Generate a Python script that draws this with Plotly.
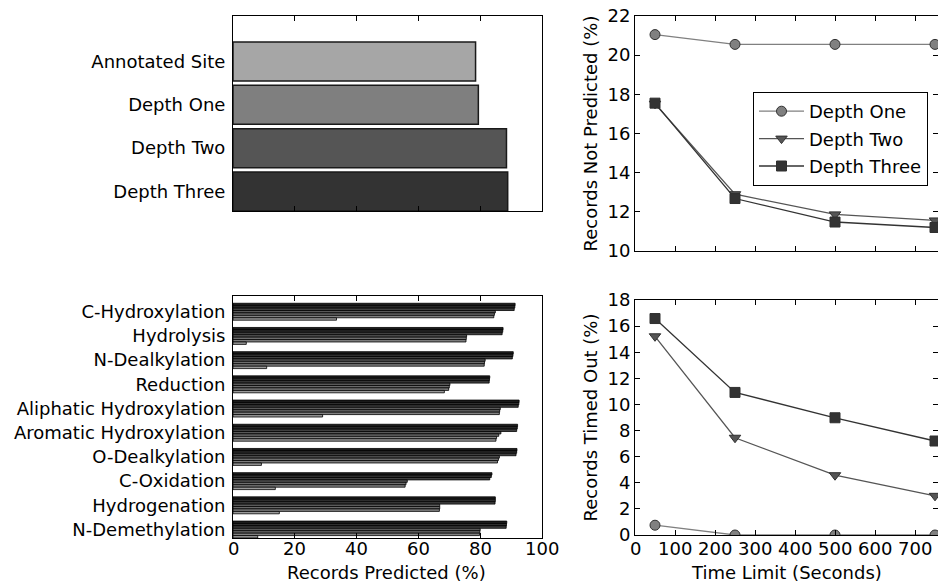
import plotly.graph_objects as go

# ---------------- data ----------------
overall_labels = ["Annotated Site", "Depth One", "Depth Two", "Depth Three"]
overall_predicted = [78.5, 79.4, 88.5, 88.9]
overall_colors = ["#a6a6a6", "#7f7f7f", "#555555", "#333333"]

reaction_types = ["C-Hydroxylation", "Hydrolysis", "N-Dealkylation", "Reduction",
                  "Aliphatic Hydroxylation", "Aromatic Hydroxylation", "O-Dealkylation",
                  "C-Oxidation", "Hydrogenation", "N-Demethylation"]
bar1 = [91.3, 87.4, 90.7, 83.1, 92.6, 92.1, 91.9, 83.8, 84.9, 88.6]
bar2 = [91.2, 87.3, 90.6, 83.0, 92.5, 92.0, 91.8, 83.6, 84.9, 88.5]
bar3 = [91.0, 87.1, 90.4, 82.9, 92.3, 91.8, 91.6, 83.1, 84.8, 88.4]
bar4 = [84.9, 75.6, 81.6, 70.2, 86.5, 86.7, 86.2, 56.4, 66.9, 80.0]
bar5 = [84.6, 75.5, 81.4, 70.0, 86.3, 86.0, 85.9, 56.0, 66.9, 79.9]
bar6 = [84.4, 75.4, 81.3, 69.8, 86.2, 85.3, 85.6, 55.7, 66.8, 79.8]
bar7 = [33.5, 4.3, 10.9, 68.4, 29.0, 85.1, 9.2, 13.7, 15.0, 8.0]
type_series = [bar1, bar2, bar3, bar4, bar5, bar6, bar7]
type_colors = ["#1c1c1c", "#2e2e2e", "#404040", "#5a5a5a", "#6e6e6e", "#828282", "#9a9a9a"]

time_limits = [50, 250, 500, 750]
depth_names = ["Depth One", "Depth Two", "Depth Three"]
not_predicted = [
    [21.05, 20.55, 20.55, 20.55],
    [17.52, 12.9, 11.87, 11.56],
    [17.55, 12.68, 11.48, 11.2],
]
timed_out = [
    [0.75, 0.0, 0.0, 0.0],
    [15.22, 7.45, 4.58, 3.0],
    [16.58, 10.92, 8.98, 7.2],
]
depth_symbols = ["circle", "triangle-down", "square"]
depth_colors = ["#808080", "#555555", "#333333"]

pct_ticks = [0, 20, 40, 60, 80, 100]
time_ticks = [0, 100, 200, 300, 400, 500, 600, 700]

# ---------------- layout helpers ----------------
W, H = 938, 582
def dx(a, b):
    return [a / W, b / W]
def dy(top, bottom):
    return [1 - bottom / H, 1 - top / H]

FONT = "DejaVu Sans"
FS = 18

fig = go.Figure()

# top-left: overall records predicted
n = len(overall_labels)
pos_overall = [(n - 1 - i) + 0.45 for i in range(n)]
fig.add_trace(go.Bar(
    orientation="h", x=overall_predicted, y=pos_overall, width=0.9,
    marker=dict(color=overall_colors, line=dict(color="#1a1a1a", width=1.5)),
    xaxis="x", yaxis="y", showlegend=False, hoverinfo="x+y"))

# bottom-left: per reaction type
m = len(reaction_types)
for k, (vals, col) in enumerate(zip(type_series, type_colors)):
    ypos = [(m - 1 - i) + 0.7 - 0.05 - 0.1 * k for i in range(m)]
    fig.add_trace(go.Bar(
        orientation="h", x=vals, y=ypos, width=0.1,
        marker=dict(color=col, line=dict(color="#000000", width=0.8)),
        xaxis="x2", yaxis="y2", showlegend=False))

# right: lines
for j in range(3):
    fig.add_trace(go.Scatter(
        x=time_limits, y=not_predicted[j], mode="lines+markers", name=depth_names[j],
        legendgroup=depth_names[j],
        line=dict(color=depth_colors[j], width=1.3),
        marker=dict(symbol=depth_symbols[j], size=10, color=depth_colors[j],
                    line=dict(color="#303030", width=1)),
        xaxis="x3", yaxis="y3", showlegend=True, cliponaxis=True))
for j in range(3):
    fig.add_trace(go.Scatter(
        x=time_limits, y=timed_out[j], mode="lines+markers", name=depth_names[j],
        legendgroup=depth_names[j],
        line=dict(color=depth_colors[j], width=1.3),
        marker=dict(symbol=depth_symbols[j], size=10, color=depth_colors[j],
                    line=dict(color="#303030", width=1)),
        xaxis="x4", yaxis="y4", showlegend=False, cliponaxis=True))

ax_common = dict(showline=True, linecolor="black", linewidth=1, showgrid=False,
                 zeroline=False, ticks="inside", ticklen=5, tickcolor="black",
                 automargin=False,
                 tickfont=dict(family=FONT, size=FS, color="black"))
cat_axis = {**ax_common, "ticks": "", "ticklabelstandoff": 3}

# bottom x tick labels placed as text on the axes' own data scale
tick_y = 1 - 548.5 / H
annotations = []
for v in pct_ticks:
    annotations.append(dict(text=str(v), x=v, y=tick_y, xref="x2", yref="paper",
                            showarrow=False, xanchor="center", yanchor="middle",
                            borderpad=0))
for v in time_ticks:
    annotations.append(dict(text=str(v), x=v, y=tick_y, xref="x4", yref="paper",
                            showarrow=False, xanchor="center", yanchor="middle",
                            borderpad=0))
annotations += [
    dict(text="Records Predicted (%)", x=386 / W, y=1 - 572 / H, xref="paper",
         yref="paper", showarrow=False, xanchor="center", yanchor="middle",
         borderpad=0),
    dict(text="Time Limit (Seconds)", x=786 / W, y=1 - 572 / H, xref="paper",
         yref="paper", showarrow=False, xanchor="center", yanchor="middle",
         borderpad=0),
    dict(text="Records Not Predicted (%)", x=590 / W, y=1 - 133.5 / H, xref="paper",
         yref="paper", showarrow=False, textangle=-90, xanchor="center",
         yanchor="middle"),
    dict(text="Records Timed Out (%)", x=590 / W, y=1 - 417.5 / H, xref="paper",
         yref="paper", showarrow=False, textangle=-90, xanchor="center",
         yanchor="middle"),
]

fig.update_layout(
    template="none",
    width=W, height=H, margin=dict(l=0, r=0, t=0, b=0, autoexpand=False),
    paper_bgcolor="white", plot_bgcolor="white", barmode="overlay",
    font=dict(family=FONT, size=FS, color="black"),
    xaxis=dict(domain=dx(233, 542), range=[0, 100], tickvals=pct_ticks,
               showticklabels=False, mirror="ticks", anchor="y", **ax_common),
    yaxis=dict(domain=dy(16, 211), range=[0, 4.5], tickvals=pos_overall,
               ticktext=overall_labels, mirror=True, anchor="x", **cat_axis),
    xaxis2=dict(domain=dx(233, 542), range=[0, 100], tickvals=pct_ticks,
                showticklabels=False, mirror="ticks", anchor="y2", **ax_common),
    yaxis2=dict(domain=dy(296, 538), range=[0, 10],
                tickvals=[(m - 1 - i) + 0.35 for i in range(m)],
                ticktext=reaction_types, mirror=True, anchor="x2", **cat_axis),
    xaxis3=dict(domain=dx(635, 938), range=[0, 757.5], tickvals=time_ticks,
                showticklabels=False, mirror="ticks", anchor="y3", **ax_common),
    yaxis3=dict(domain=dy(16, 251), range=[10, 22], dtick=2, mirror="ticks",
                anchor="x3", **ax_common),
    xaxis4=dict(domain=dx(635, 938), range=[0, 757.5], tickvals=time_ticks,
                showticklabels=False, mirror="ticks", anchor="y4", **ax_common),
    yaxis4=dict(domain=dy(300, 535), range=[0, 18], dtick=2, mirror="ticks",
                anchor="x4", **ax_common),
    legend=dict(x=753 / W, y=1 - 92 / H, xanchor="left", yanchor="top",
                bgcolor="white", bordercolor="black", borderwidth=1,
                font=dict(family=FONT, size=FS, color="black"),
                itemwidth=45, tracegroupgap=1),
    annotations=annotations,
)

fig.write_html(
    "out.html",
    config={"displayModeBar": False},
    post_script="document.body.style.margin='0';document.body.style.padding='0';"
                "document.body.style.overflow='hidden';",
)
